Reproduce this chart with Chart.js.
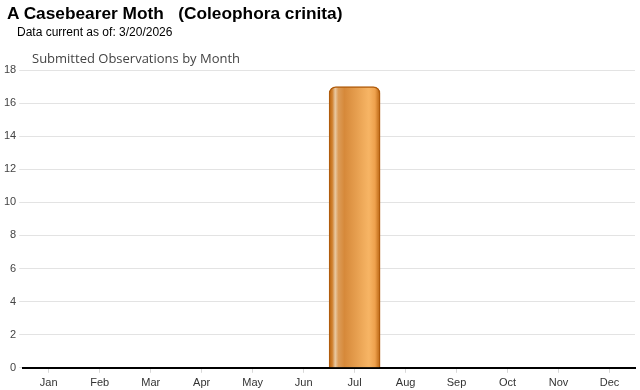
<!DOCTYPE html>
<html>
<head>
<meta charset="utf-8">
<script src="https://cdn.jsdelivr.net/npm/chart.js@4"></script>
<style>
  html, body { margin: 0; padding: 0; background: #fff; width: 640px; height: 390px; overflow: hidden; font-family: "Liberation Sans", Arial, sans-serif; }
  #t1 { position: absolute; left: 7px; top: 3px; font-size: 17.3px; font-weight: bold; color: #000; white-space: pre; }
  #t2 { position: absolute; left: 17px; top: 25px; font-size: 12px; color: #000; }
  #t3 { position: absolute; left: 32px; top: 49px; font-size: 13px; color: #444; font-family: "Open Sans", "Liberation Sans", sans-serif; }
  #wrap { position: absolute; left: 0; top: 0; width: 640px; height: 394px; }
</style>
</head>
<body>
<div id="wrap"><canvas id="c"></canvas></div>
<div id="t1">A Casebearer Moth   (Coleophora crinita)</div>
<div id="t2">Data current as of: 3/20/2026</div>
<div id="t3">Submitted Observations by Month</div>
<script>
const months = ["Jan","Feb","Mar","Apr","May","Jun","Jul","Aug","Sep","Oct","Nov","Dec"];
const observations = [0,0,0,0,0,0,17,0,0,0,0,0];
const yTicks = [0,2,4,6,8,10,12,14,16,18];

function barGradient(ctx) {
  const chart = ctx.chart;
  const area = chart.chartArea;
  if (!area || ctx.dataIndex === undefined) return '#d88a38';
  const xs = chart.scales.x;
  const cx = xs.getPixelForValue(ctx.dataIndex);
  const w = (area.right - area.left) / months.length;
  const g = chart.ctx.createLinearGradient(cx - w / 2, 0, cx + w / 2, 0);
  g.addColorStop(0, '#c06a14');
  g.addColorStop(0.06, '#cf7f2c');
  g.addColorStop(0.12, '#e9c9a2');
  g.addColorStop(0.18, '#dc9c58');
  g.addColorStop(0.3, '#d6893a');
  g.addColorStop(0.78, '#f7b565');
  g.addColorStop(0.9, '#eea14d');
  g.addColorStop(1, '#b8620e');
  return g;
}

new Chart(document.getElementById('c'), {
  type: 'bar',
  data: {
    labels: months,
    datasets: [{
      data: observations,
      backgroundColor: barGradient,
      borderColor: '#b05c0c',
      borderWidth: 1.5,
      borderSkipped: 'bottom',
      borderRadius: { topLeft: 7, topRight: 7, bottomLeft: 0, bottomRight: 0 },
      barPercentage: 1.0,
      categoryPercentage: 1.0
    }]
  },
  options: {
    responsive: true,
    maintainAspectRatio: false,
    animation: false,
    layout: { padding: { top: 70, right: 5, left: 1, bottom: 0 } },
    plugins: { legend: { display: false }, tooltip: { enabled: false }, title: { display: false } },
    scales: {
      x: {
        grid: { display: true, drawOnChartArea: false, drawTicks: true, tickLength: 5, color: '#d8d8d8', offset: false },
        border: { display: true, color: '#000', width: 2 },
        ticks: { color: '#333', font: { family: '"Liberation Sans", Arial', size: 11 }, padding: 4 }
      },
      y: {
        min: 0, max: 18,
        afterBuildTicks: (axis) => { axis.ticks = yTicks.map(v => ({ value: v })); },
        grid: { color: '#e3e3e3', tickLength: 4 },
        border: { display: false },
        ticks: { color: '#444', font: { family: '"Liberation Sans", Arial', size: 11 }, padding: 3 }
      }
    }
  }
});
</script>
</body>
</html>
